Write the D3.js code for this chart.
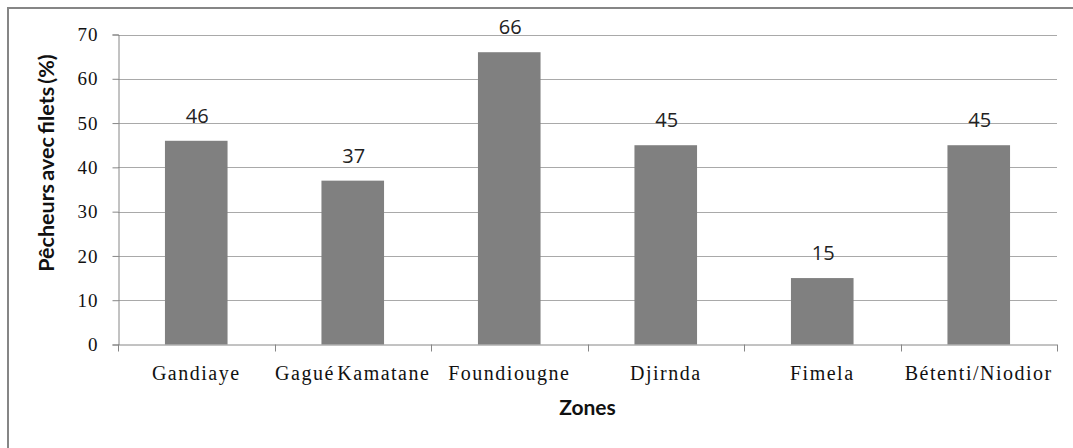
<!DOCTYPE html>
<html>
<head>
<meta charset="utf-8">
<script src="https://cdn.jsdelivr.net/npm/d3@7"></script>
<style>
  html, body { margin: 0; padding: 0; background: #fff; overflow: hidden; }
  svg { display: block; }
</style>
</head>
<body>
<div id="chart"></div>
<script>
// Share of fishermen using nets, by zone
const zones = ["Gandiaye", "Gagué Kamatane", "Foundiougne", "Djirnda", "Fimela", "Bétenti/Niodior"];
const percents = [46, 37, 66, 45, 15, 45];
const yTicks = [0, 10, 20, 30, 40, 50, 60, 70];

const W = 1073, H = 448;
const plot = { left: 118, right: 1057, top: 34.5, bottom: 344.5 };
const serif = "'Liberation Serif', 'Times New Roman', serif";
const sans = "Lato, 'Open Sans', sans-serif";

const svg = d3.select("#chart").append("svg")
  .attr("width", W).attr("height", H);

// chart frame
svg.append("rect")
  .attr("x", 8).attr("y", 8)
  .attr("width", W + 50).attr("height", H + 50)
  .attr("fill", "#fff")
  .attr("stroke", "#868686")
  .attr("stroke-width", 2);

const x = d3.scaleBand().domain(zones).range([plot.left, plot.right]).paddingInner(0).paddingOuter(0);
const y = d3.scaleLinear().domain([0, 70]).range([plot.bottom, plot.top]);

// horizontal gridlines
svg.append("g")
  .selectAll("line")
  .data(yTicks.filter(d => d > 0))
  .join("line")
  .attr("x1", plot.left).attr("x2", plot.right)
  .attr("y1", d => Math.round(y(d)) + 0.5).attr("y2", d => Math.round(y(d)) + 0.5)
  .attr("stroke", "#a9a9a9")
  .attr("stroke-width", 1);

// bars
const barW = x.bandwidth() * 0.4;
svg.append("g")
  .selectAll("rect")
  .data(zones)
  .join("rect")
  .attr("x", (d) => x(d) + (x.bandwidth() - barW) / 2)
  .attr("width", barW)
  .attr("y", (d, i) => y(percents[i]))
  .attr("height", (d, i) => y(0) - y(percents[i]))
  .attr("fill", "#808080");

// value labels
svg.append("g")
  .selectAll("text")
  .data(zones)
  .join("text")
  .attr("x", d => x(d) + x.bandwidth() / 2 + 1)
  .attr("y", (d, i) => y(percents[i]) - 18)
  .attr("text-anchor", "middle")
  .style("font-family", "'Open Sans', sans-serif")
  .style("font-size", "20px")
  .attr("fill", "#222")
  .text((d, i) => percents[i]);

// y axis
const yAxis = svg.append("g")
  .attr("transform", `translate(${plot.left + 0.5},0)`)
  .call(d3.axisLeft(y).tickValues(yTicks).tickSize(6).tickPadding(14).tickFormat(d3.format("d")));
yAxis.select(".domain").attr("stroke", "#868686");
yAxis.selectAll(".tick line").attr("stroke", "#868686");
yAxis.selectAll(".tick text")
  .style("font-family", serif)
  .style("font-size", "19px")
  .style("letter-spacing", "1px")
  .attr("fill", "#111");

// x axis: ticks at category boundaries
const xAxisG = svg.append("g").attr("transform", `translate(0,${plot.bottom})`);
xAxisG.append("line")
  .attr("x1", plot.left).attr("x2", plot.right)
  .attr("y1", 0.5).attr("y2", 0.5)
  .attr("stroke", "#868686");
const bounds = zones.map(d => x(d)).concat([x(zones[zones.length - 1]) + x.bandwidth()]);
xAxisG.selectAll("line.tk")
  .data(bounds)
  .join("line")
  .attr("class", "tk")
  .attr("x1", d => Math.round(d) + 0.5).attr("x2", d => Math.round(d) + 0.5)
  .attr("y1", 0).attr("y2", 7)
  .attr("stroke", "#868686");
xAxisG.selectAll("text")
  .data(zones)
  .join("text")
  .attr("x", d => x(d) + x.bandwidth() / 2)
  .attr("y", 35)
  .attr("text-anchor", "middle")
  .style("font-family", serif)
  .style("font-size", "20px")
  .style("letter-spacing", "1.5px")
  .style("word-spacing", "-4px")
  .attr("fill", "#111")
  .text(d => d);

// axis titles
svg.append("text")
  .attr("x", (plot.left + plot.right) / 2)
  .attr("y", 415)
  .attr("text-anchor", "middle")
  .style("font-family", sans)
  .style("font-weight", "bold")
  .style("font-size", "21px")
  .attr("fill", "#111")
  .text("Zones");

svg.append("text")
  .attr("transform", "translate(54,163) rotate(-90)")
  .attr("text-anchor", "middle")
  .style("font-family", sans)
  .style("font-weight", "bold")
  .style("font-size", "21.5px")
  .style("word-spacing", "-2px")
  .attr("fill", "#111")
  .text("Pêcheurs avec filets (%)");
</script>
</body>
</html>
